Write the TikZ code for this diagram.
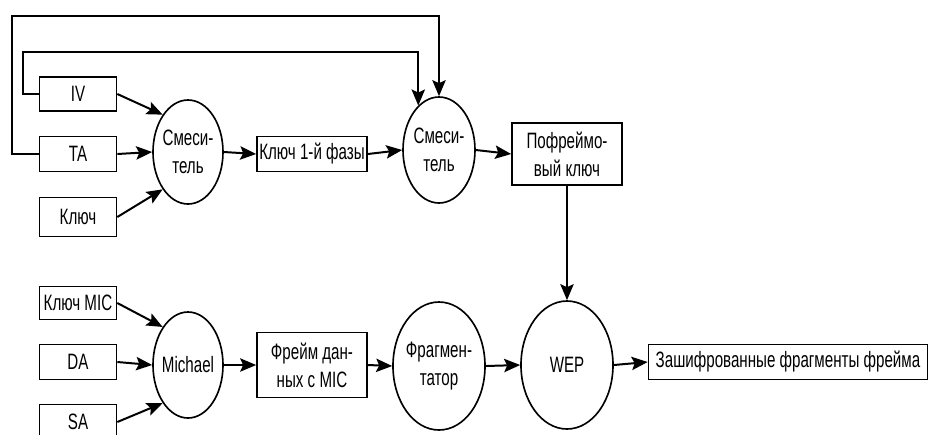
\documentclass[tikz,border=0pt]{standalone}
\usepackage{fontspec}
\setmainfont{Liberation Sans}[FakeStretch=0.68]
\usetikzlibrary{arrows.meta,shapes.geometric}

\begin{document}
\begin{tikzpicture}[x=0.03cm,y=-0.03cm]
	\tikzstyle{every node}=[font=\fontsize{19pt}{24pt}\selectfont]
	\tikzstyle{blk}=[draw, line width=1.4pt, rectangle, inner sep=0pt, align=center]
	\tikzstyle{mixer}=[draw, line width=1.4pt, ellipse, inner sep=0pt]
	\tikzstyle{arr}=[line width=1.7pt, -{Stealth[length=4.8mm,width=4mm,inset=0.9mm]}]
	\useasboundingbox (0,0) rectangle (928,434);
	
	\node [blk, minimum width=2.31cm, minimum height=1.02cm] (iv) at (78,94) {IV};
	\node [blk, minimum width=2.31cm, minimum height=1.05cm] (ta) at (78,154) {TA};
	\node [blk, minimum width=2.31cm, minimum height=1.17cm] (key) at (78,217) {Ключ};
	\node [mixer, minimum width=2.1cm, minimum height=3.12cm, label={[align=center]center:Смеси-\\тель}] (mix1) at (188,152) {};
	\node [blk, minimum width=3.3cm, minimum height=1.05cm] (phase) at (312,154) {Ключ 1-й фазы};
	\node [mixer, minimum width=2.16cm, minimum height=3.18cm, label={[align=center]center:Смеси-\\тель}] (mix2) at (439,150) {};
	\node [blk, minimum width=3.3cm, minimum height=1.86cm] (frkey) at (567,154) {Пофреймо-\\вый ключ};
	
	\node [blk, minimum width=2.31cm, minimum height=1.0cm] (mickey) at (78,303) {Ключ MIC};
	\node [blk, minimum width=2.31cm, minimum height=1.05cm] (da) at (78,362) {DA};
	\node [blk, minimum width=2.31cm, minimum height=1.05cm] (sa) at (78,422) {SA};
	\node [mixer, minimum width=2.1cm, minimum height=3.18cm, label={[align=center]center:Michael}] (mich) at (188,365) {};
	\node [blk, minimum width=3.3cm, minimum height=1.95cm] (frame) at (312,365) {Фрейм дан-\\ных с MIC};
	\node [mixer, minimum width=2.76cm, minimum height=3.84cm, label={[align=center]center:Фрагмен-\\татор}] (frag) at (439,366) {};
	\node [mixer, minimum width=2.76cm, minimum height=3.84cm, label={[align=center]center:WEP}] (wep) at (567,365) {};
	\node [blk, minimum width=8.37cm, minimum height=1.05cm] (enc) at (788,362) {Зашифрованные фрагменты фрейма};
	
	\coordinate (loopa) at (12,16);
	\coordinate (loopb) at (23,52);
	
	\draw [arr] (iv.east) -- (mix1.north west);
	\draw [arr] (ta.east) -- (mix1.west);
	\draw [arr] (key.east) -- (mix1.south west);
	\draw [arr] (mix1.east) -- (phase.west);
	\draw [arr] (phase.east) -- (mix2.west);
	\draw [arr] (mix2.east) -- (frkey.west);
	\draw [arr] (ta.west) -| (loopa) -| (mix2.north);
	\draw [arr] (iv.west) -| (loopb) -| (mix2.115);
	\draw [arr] (frkey.south) -- (wep.north);
	
	\draw [arr] (mickey.east) -- (mich.north west);
	\draw [arr] (da.east) -- (mich.west);
	\draw [arr] (sa.east) -- (mich.south west);
	\draw [arr] (mich.east) -- (frame.west);
	\draw [arr] (frame.east) -- (frag.west);
	\draw [arr] (frag.east) -- (wep.west);
	\draw [arr] (wep.east) -- (enc.west);
\end{tikzpicture}
\end{document}
